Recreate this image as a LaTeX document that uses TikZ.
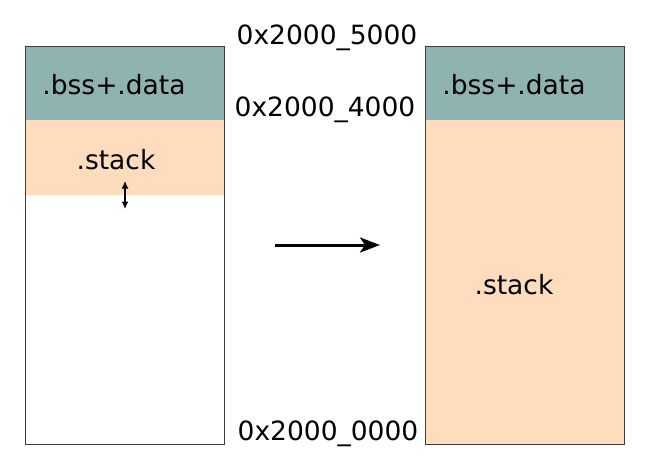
\documentclass[tikz,border=0pt]{standalone}
\usepackage{fontspec}
\setmainfont{DejaVu Sans}
\usetikzlibrary{arrows.meta}
\definecolor{teal1}{RGB}{143,179,176}
\definecolor{peach}{RGB}{255,220,190}
\definecolor{edge}{RGB}{60,60,60}
\tikzset{
  band/.style={draw=none, minimum width=199pt, inner sep=0pt, outer sep=0pt},
  frame/.style={draw=edge, line width=0.9pt, fill=none, minimum width=199pt, minimum height=398pt, inner sep=0pt},
  lbl/.style={font=\fontsize{26.5}{31}\selectfont, inner sep=0pt, anchor=center},
}
\begin{document}
\begin{tikzpicture}[x=1pt,y=-1pt]
\useasboundingbox (0,0) rectangle (650,475);
% left column
\node[band, fill=teal1, minimum height=74pt] (ldata) at (124.5,83) {};
\node[band, fill=peach, minimum height=75pt] (lstack) at (124.5,157.5) {};
\node[frame] (lbox) at (124.5,245) {};
% right column
\node[band, fill=teal1, minimum height=74pt] (rdata) at (524.5,83) {};
\node[band, fill=peach, minimum height=324pt] (rstack) at (524.5,282) {};
\node[frame] (rbox) at (524.5,245) {};
% labels
\node[lbl] (ldatat) at (114,85) {.bss+.data};
\node[lbl] (lstackt) at (116,160) {.stack};
\node[lbl] (rdatat) at (514,85) {.bss+.data};
\node[lbl] (rstackt) at (514,285) {.stack};
\node[lbl] (a5) at (327,38) {0x2000\_5000};
\node[lbl] (a4) at (325,110) {0x2000\_4000};
\node[lbl] (a0) at (328,434) {0x2000\_0000};
% growth arrow
\coordinate (gt) at (125,181);
\coordinate (gb) at (125,209);
\draw[line width=1.4pt, {Latex[length=7.5pt,width=7pt]}-{Latex[length=7.5pt,width=7pt]}] (gt) -- (gb);
% transition arrow
\coordinate (ts) at (275,245);
\coordinate (te) at (380,245);
\draw[line width=3pt, -{Stealth[length=20pt,width=15pt,inset=5pt]}] (ts) -- (te);
\end{tikzpicture}
\end{document}
